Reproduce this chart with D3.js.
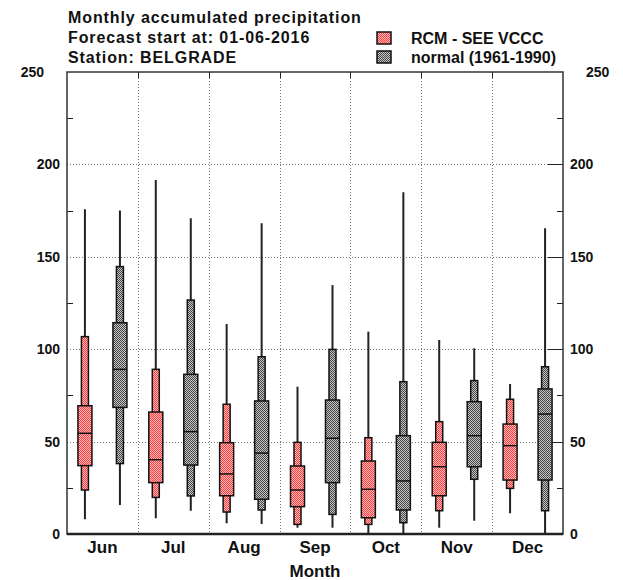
<!DOCTYPE html>
<html>
<head>
<meta charset="utf-8">
<script src="https://cdn.jsdelivr.net/npm/d3@7"></script>
<style>
  html, body { margin: 0; padding: 0; background: #fff; }
  svg { display: block; }
  text { font-family: "Liberation Sans", Arial, Helvetica, sans-serif; font-weight: bold; fill: #111; }
</style>
</head>
<body>
<svg id="chart" width="623" height="580"></svg>
<script>
// ---------- data ----------
const months = ["Jun", "Jul", "Aug", "Sep", "Oct", "Nov", "Dec"];
const yTicks = [0, 50, 100, 150, 200, 250];
const yMinorTicks = [25, 75, 125, 175, 225];
const titleLines = ["Monthly accumulated precipitation", "Forecast start at: 01-06-2016", "Station: BELGRADE"];
const seriesNames = ["RCM - SEE VCCC", "normal (1961-1990)"];
const xTitle = "Month";

// RCM - SEE VCCC
const rcmMin = [8.0, 8.5, 5.8, 3.4, 0.0, 3.4, 11.2];
const rcmP10 = [23.8, 19.8, 11.9, 5.2, 5.2, 12.6, 24.7];
const rcmQ1  = [37.0, 27.8, 20.7, 14.8, 8.8, 20.7, 29.2];
const rcmMed = [54.5, 40.2, 32.5, 23.8, 24.2, 36.4, 47.8];
const rcmQ3  = [69.4, 66.0, 49.4, 36.8, 39.5, 49.6, 59.5];
const rcmP90 = [106.8, 89.1, 70.2, 49.6, 52.1, 60.8, 72.9];
const rcmMax = [175.7, 191.6, 113.6, 79.7, 109.5, 105.0, 81.2];

// normal (1961-1990)
const normMin = [15.7, 12.6, 5.4, 3.4, 0.0, 7.2, 0.0];
const normP10 = [38.1, 20.6, 13.0, 10.6, 6.1, 29.6, 12.6];
const normQ1  = [68.5, 37.3, 18.8, 27.8, 13.0, 36.4, 29.2];
const normMed = [89.1, 55.4, 43.8, 51.8, 28.7, 53.2, 64.9];
const normQ3  = [114.3, 86.4, 72.0, 72.5, 53.2, 71.6, 78.5];
const normP90 = [144.7, 126.6, 95.9, 99.9, 82.4, 83.0, 90.5];
const normMax = [175.0, 170.8, 168.1, 134.7, 184.9, 100.5, 165.4];

// ---------- build ----------
const series = [
  { name: seriesNames[0], pat: "patRed", offset: -17.5,
    min: rcmMin, p10: rcmP10, q1: rcmQ1, med: rcmMed, q3: rcmQ3, p90: rcmP90, max: rcmMax },
  { name: seriesNames[1], pat: "patGray", offset: 17.5,
    min: normMin, p10: normP10, q1: normQ1, med: normMed, q3: normQ3, p90: normP90, max: normMax }
];

const L = 67, R = 563, T = 72, B = 534;
const svg = d3.select("#chart");

// patterns (dithered checkerboard)
const defs = svg.append("defs");
function checker(id, dark, light) {
  const p = defs.append("pattern").attr("id", id)
    .attr("patternUnits", "userSpaceOnUse").attr("width", 2).attr("height", 2);
  p.append("rect").attr("width", 2).attr("height", 2).attr("fill", light);
  p.append("rect").attr("x", 0).attr("y", 0).attr("width", 1).attr("height", 1).attr("fill", dark);
  p.append("rect").attr("x", 1).attr("y", 1).attr("width", 1).attr("height", 1).attr("fill", dark);
}
checker("patRed", "#ff3c3c", "#ffbcbc");
checker("patGray", "#454545", "#c6c6c6");

const x = d3.scaleBand().domain(months).range([L, R]).paddingInner(0).paddingOuter(0);
const y = d3.scaleLinear().domain([0, 250]).range([B, T]);

// gridlines
const grid = svg.append("g").attr("stroke", "#777").attr("stroke-width", 1).attr("stroke-dasharray", "1,2");
grid.selectAll("line.h").data(yTicks.filter(t => t > 0 && t < 250)).join("line")
  .attr("x1", L).attr("x2", R).attr("y1", d => Math.round(y(d)) + 0.5).attr("y2", d => Math.round(y(d)) + 0.5);
grid.selectAll("line.v").data(months.slice(1)).join("line")
  .attr("x1", d => Math.round(x(d)) + 0.5).attr("x2", d => Math.round(x(d)) + 0.5)
  .attr("y1", T).attr("y2", B);

// ticks
const tk = svg.append("g").attr("stroke", "#222").attr("stroke-width", 1);
tk.selectAll("line.ml").data(yMinorTicks).join("line")
  .attr("x1", L).attr("x2", L + 6).attr("y1", d => Math.round(y(d)) + 0.5).attr("y2", d => Math.round(y(d)) + 0.5);
tk.selectAll("line.mr").data(yMinorTicks).join("line")
  .attr("x1", R - 6).attr("x2", R).attr("y1", d => Math.round(y(d)) + 0.5).attr("y2", d => Math.round(y(d)) + 0.5);
tk.selectAll("line.Mr").data(yTicks.filter(t => t > 0 && t < 250)).join("line")
  .attr("x1", R - 15).attr("x2", R).attr("y1", d => Math.round(y(d)) + 0.5).attr("y2", d => Math.round(y(d)) + 0.5);
tk.selectAll("line.tx").data(months.slice(1)).join("line")
  .attr("x1", d => Math.round(x(d)) + 0.5).attr("x2", d => Math.round(x(d)) + 0.5)
  .attr("y1", T).attr("y2", T + 6);

// boxes
series.forEach(s => {
  const g = svg.append("g");
  months.forEach((m, i) => {
    const cx = x(m) + x.bandwidth() / 2 + s.offset;
    g.append("line").attr("x1", cx).attr("x2", cx)
      .attr("y1", y(s.min[i])).attr("y2", y(s.max[i]))
      .attr("stroke", "#222").attr("stroke-width", 2);
    g.append("rect").attr("x", cx - 3.5).attr("width", 7)
      .attr("y", y(s.p90[i])).attr("height", y(s.p10[i]) - y(s.p90[i]))
      .attr("fill", "url(#" + s.pat + ")").attr("stroke", "#111").attr("stroke-width", 1.5);
    g.append("rect").attr("x", cx - 7).attr("width", 14)
      .attr("y", y(s.q3[i])).attr("height", y(s.q1[i]) - y(s.q3[i]))
      .attr("fill", "url(#" + s.pat + ")").attr("stroke", "#111").attr("stroke-width", 1.5);
    g.append("line").attr("x1", cx - 7).attr("x2", cx + 7)
      .attr("y1", y(s.med[i])).attr("y2", y(s.med[i]))
      .attr("stroke", "#111").attr("stroke-width", 1.5);
  });
});

// frame
svg.append("rect").attr("x", L).attr("y", T).attr("width", R - L).attr("height", B - T)
  .attr("fill", "none").attr("stroke", "#333").attr("stroke-width", 1.5);
svg.append("line").attr("x1", L).attr("x2", R).attr("y1", B).attr("y2", B)
  .attr("stroke", "#222").attr("stroke-width", 2.5);

// y labels
svg.selectAll("text.yl").data(yTicks).join("text")
  .attr("x", d => d === 250 ? 44 : 60).attr("y", d => y(d)).attr("dy", "0.36em")
  .attr("text-anchor", "end").attr("font-size", 14).text(d => d);
svg.selectAll("text.yr").data(yTicks).join("text")
  .attr("x", d => d === 250 ? 586 : 570).attr("y", d => y(d)).attr("dy", "0.36em")
  .attr("text-anchor", "start").attr("font-size", 14).text(d => d);

// month labels
svg.selectAll("text.xl").data(months).join("text")
  .attr("x", d => x(d) + x.bandwidth() / 2).attr("y", 553)
  .attr("text-anchor", "middle").attr("font-size", 17).text(d => d);
svg.append("text").attr("x", (L + R) / 2).attr("y", 577)
  .attr("text-anchor", "middle").attr("font-size", 17).text(xTitle);

// titles
svg.selectAll("text.title").data(titleLines).join("text")
  .attr("x", 68).attr("y", (d, i) => 23 + i * 20)
  .attr("font-size", 16).attr("letter-spacing", 0.9).text(d => d);

// legend
series.forEach((s, i) => {
  svg.append("rect").attr("x", 377).attr("y", 32 + i * 19).attr("width", 14).attr("height", 12)
    .attr("fill", "url(#" + s.pat + ")").attr("stroke", "#111").attr("stroke-width", 1.5);
  svg.append("text").attr("x", 411).attr("y", 43.5 + i * 19)
    .attr("font-size", 16).text(s.name);
});
</script>
</body>
</html>
